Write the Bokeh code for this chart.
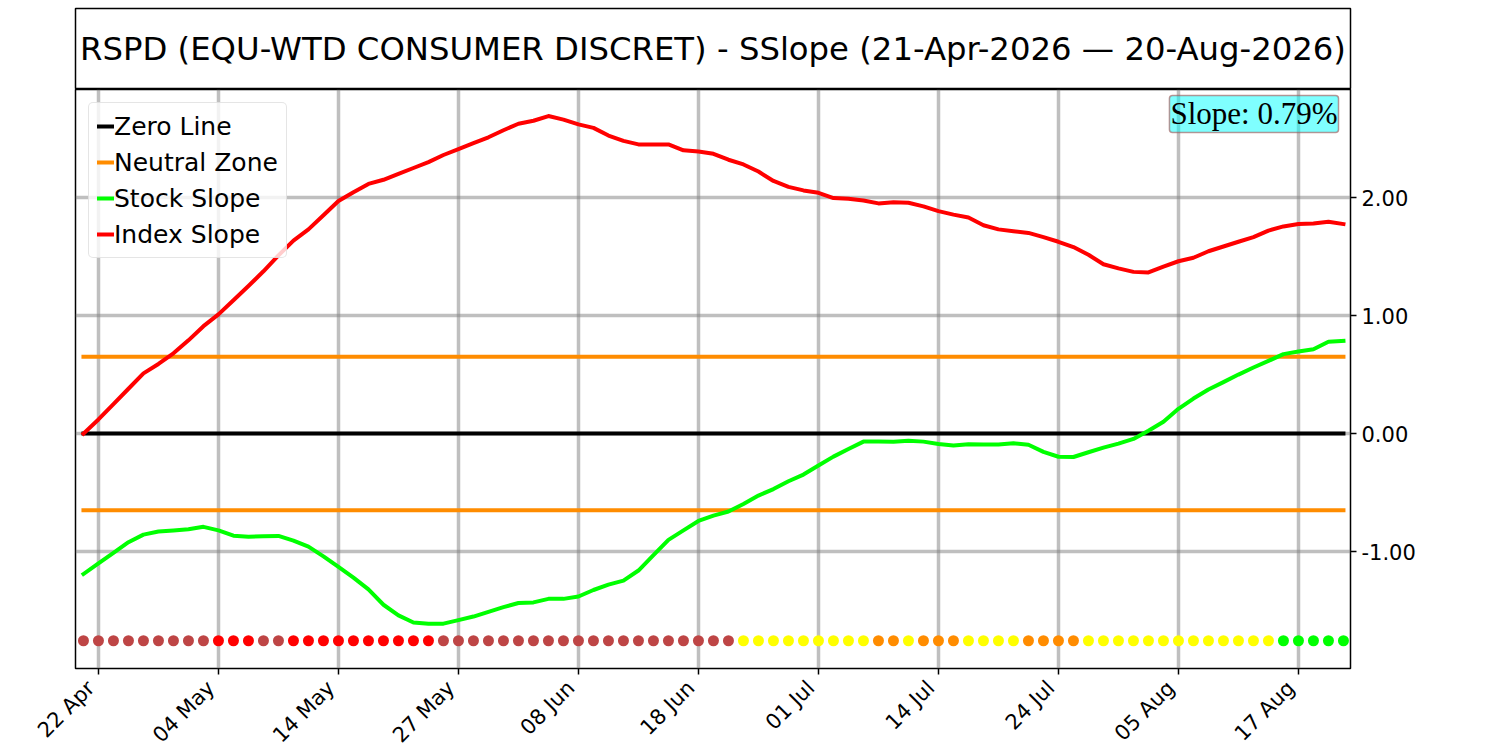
import math
from bokeh.plotting import figure
from bokeh.models import (ColumnDataSource, Label, Legend, LegendItem, FixedTicker,
                          NumeralTickFormatter, Range1d)
from bokeh.layouts import column
from bokeh.embed import file_html
from bokeh.resources import INLINE

# ---------------- data ----------------
title_text = "RSPD (EQU-WTD CONSUMER DISCRET) - SSlope (21-Apr-2026 \u2014 20-Aug-2026)"

index_slope = [
    0.00, 0.12, 0.25, 0.38, 0.51, 0.59, 0.68, 0.79, 0.91, 1.01,
    1.13, 1.25, 1.375, 1.51, 1.635, 1.73, 1.85, 1.97, 2.045, 2.115,
    2.15, 2.20, 2.25, 2.30, 2.36, 2.41, 2.46, 2.51, 2.57, 2.625,
    2.65, 2.69, 2.66, 2.62, 2.59, 2.525, 2.48, 2.45, 2.45, 2.45,
    2.40, 2.39, 2.37, 2.32, 2.28, 2.22, 2.14, 2.09, 2.06, 2.04,
    1.995, 1.99, 1.975, 1.95, 1.96, 1.955, 1.925, 1.885, 1.855, 1.83,
    1.765, 1.73, 1.715, 1.70, 1.665, 1.625, 1.58, 1.515, 1.435, 1.40,
    1.37, 1.365, 1.415, 1.46, 1.49, 1.545, 1.585, 1.625, 1.665, 1.72,
    1.755, 1.775, 1.78, 1.795, 1.775,
]

stock_slope = [
    -1.19, -1.10, -1.01, -0.92, -0.856, -0.83, -0.82, -0.81, -0.79, -0.82,
    -0.865, -0.873, -0.87, -0.867, -0.907, -0.958, -1.04, -1.13, -1.22, -1.32,
    -1.45, -1.54, -1.60, -1.61, -1.61, -1.58, -1.55, -1.51, -1.47, -1.435,
    -1.43, -1.40, -1.40, -1.38, -1.325, -1.28, -1.245, -1.16, -1.03, -0.90,
    -0.82, -0.74, -0.695, -0.66, -0.596, -0.525, -0.47, -0.404, -0.347, -0.27,
    -0.195, -0.13, -0.068, -0.068, -0.07, -0.06, -0.068, -0.088, -0.10, -0.09,
    -0.092, -0.092, -0.082, -0.095, -0.155, -0.196, -0.198, -0.158, -0.119, -0.085,
    -0.045, 0.024, 0.10, 0.21, 0.297, 0.374, 0.436, 0.50, 0.56, 0.616,
    0.673, 0.696, 0.715, 0.778, 0.786,
]

status_colors = (
    ["#BE4545"] * 9 + ["#FF0000"] * 3 + ["#BE4545"] * 2 + ["#FF0000"] * 10 +
    ["#BE4545"] * 20 + ["#FFFF00"] * 9 + ["#FF8C00"] * 2 + ["#FFFF00"] * 1 +
    ["#FF8C00"] * 3 + ["#FFFF00"] * 4 + ["#FF8C00"] * 4 + ["#FFFF00"] * 13 +
    ["#00FF00"] * 5
)

tick_index = [1, 9, 17, 25, 33, 41, 49, 57, 65, 73, 81]
tick_labels = ["22 Apr", "04 May", "14 May", "27 May", "08 Jun", "18 Jun",
               "01 Jul", "14 Jul", "24 Jul", "05 Aug", "17 Aug"]
y_ticks = [-1.0, 0.0, 1.0, 2.0]

neutral_level = 0.65
zero_level = 0.0
dot_level = -1.755
slope_text = "Slope: 0.79%"

# ---------------- layout ----------------
FONT = "DejaVu Sans"
LB, RB = 75, 140
FW, FH = 1275, 579
TOP, TH = 8, 81
LABEL_SHIFT = 0.5   # rotated labels end just left of their tick (right-aligned look)

n = len(index_slope)
xs = list(range(n))
src = ColumnDataSource(dict(
    x=xs,
    index_slope=index_slope,
    stock_slope=stock_slope,
    zero=[zero_level] * n,
    npos=[neutral_level] * n,
    nneg=[-neutral_level] * n,
    dot=[dot_level] * n,
    color=status_colors,
))

# title box: its own frame, aligned with the chart frame below
t = figure(frame_width=FW, frame_height=TH, x_range=Range1d(0, 1), y_range=Range1d(0, 1),
           min_border_left=LB, min_border_right=RB, min_border_top=TOP, min_border_bottom=0,
           toolbar_location=None, output_backend="svg",
           x_axis_location=None, y_axis_location=None)
t.grid.visible = False
t.outline_line_color = "black"
t.outline_line_width = 1.5
t.add_layout(Label(x=0.5, y=0.5, text=title_text, text_align="center",
                   text_baseline="middle", text_font=FONT, text_font_size="32.3px",
                   text_color="black"))

# main figure
p = figure(frame_width=FW, frame_height=FH,
           x_range=Range1d(-0.53, 84.47), y_range=Range1d(-1.99, 2.915),
           min_border_left=LB, min_border_right=RB, min_border_top=0, min_border_bottom=0,
           toolbar_location=None, output_backend="svg", y_axis_location="right")
p.outline_line_color = "black"
p.outline_line_width = 1.5

# x axis: labels at slightly shifted positions, tick marks (minor ticks) at the dates
label_pos = [i - LABEL_SHIFT for i in tick_index]
xa = p.xaxis[0]
xa.ticker = FixedTicker(ticks=label_pos, minor_ticks=tick_index)
xa.major_label_overrides = {pos: l for pos, l in zip(label_pos, tick_labels)}
xa.major_label_orientation = math.pi / 4
xa.major_label_standoff = 10
xa.major_label_text_font = FONT
xa.major_label_text_font_size = "21px"
xa.major_label_text_color = "black"
xa.axis_line_color = None
xa.major_tick_line_color = None
xa.major_tick_out = 6
xa.major_tick_in = 0
xa.minor_tick_line_color = "black"
xa.minor_tick_line_width = 1.5
xa.minor_tick_out = 6
xa.minor_tick_in = 0

p.yaxis.ticker = FixedTicker(ticks=y_ticks)
p.yaxis.formatter = NumeralTickFormatter(format="0.00")
ya = p.yaxis[0]
ya.major_label_text_font = FONT
ya.major_label_text_font_size = "21px"
ya.major_label_text_color = "black"
ya.axis_line_color = None
ya.major_tick_line_color = "black"
ya.major_tick_line_width = 1.5
ya.major_tick_out = 6
ya.major_tick_in = 0
ya.minor_tick_line_color = None

p.xgrid.ticker = FixedTicker(ticks=tick_index)
p.xgrid.grid_line_color = "gray"
p.ygrid.grid_line_color = "gray"
p.xgrid.grid_line_alpha = 0.5
p.ygrid.grid_line_alpha = 0.5
p.xgrid.grid_line_width = 3.5
p.ygrid.grid_line_width = 3.5

line_kw = dict(line_width=4, line_cap="square", line_join="round")
r_zero = p.line("x", "zero", source=src, line_color="black", **line_kw)
r_np = p.line("x", "npos", source=src, line_color="#FF8C00", **line_kw)
p.line("x", "nneg", source=src, line_color="#FF8C00", **line_kw)
r_stock = p.line("x", "stock_slope", source=src, line_color="#00FF00", **line_kw)
r_index = p.line("x", "index_slope", source=src, line_color="#FF0000", **line_kw)
p.scatter("x", "dot", source=src, size=11, fill_color="color", line_color=None)

legend = Legend(items=[
    LegendItem(label="Zero Line", renderers=[r_zero]),
    LegendItem(label="Neutral Zone", renderers=[r_np]),
    LegendItem(label="Stock Slope", renderers=[r_stock]),
    LegendItem(label="Index Slope", renderers=[r_index]),
], location="top_left")
legend.margin = 13
legend.padding = 8
legend.spacing = 6
legend.glyph_width = 17
legend.glyph_height = 30
legend.label_height = 30
legend.label_standoff = 0
legend.label_text_font = FONT
legend.label_text_font_size = "25px"
legend.label_text_color = "black"
legend.label_text_baseline = "middle"
legend.border_line_color = "#CCCCCC"
legend.border_line_width = 1.5
legend.border_radius = 5
legend.background_fill_color = "white"
legend.background_fill_alpha = 0.8
p.add_layout(legend)

p.add_layout(Label(x=83.67, y=2.865, text=slope_text, text_align="right", text_baseline="top",
                   text_font="Liberation Serif", text_font_size="31px", text_color="black",
                   background_fill_color="#00FFFF", background_fill_alpha=0.5,
                   border_line_color="#A05050", border_line_alpha=0.6, border_line_width=1.5,
                   padding=1, border_radius=3))

layout = column(t, p, spacing=0)
open("out.html", "w").write(file_html(layout, INLINE))
